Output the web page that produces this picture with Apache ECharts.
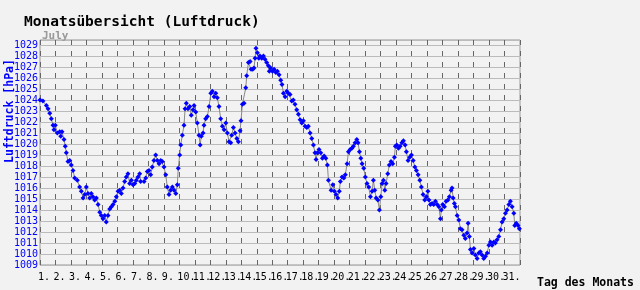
<!DOCTYPE html>
<html>
<head>
<meta charset="utf-8">
<script src="https://cdn.jsdelivr.net/npm/echarts@6/dist/echarts.min.js"></script>
<style>
html,body{margin:0;padding:0;background:#f2f2f2;}
#chart{width:640px;height:290px;}
</style>
</head>
<body>
<div id="chart"></div>
<script>
// Day of month offset (0 = start of day 1) for each reading
var days = [
 0.00,0.19,0.41,0.52,0.63,0.73,0.84,0.90,0.99,1.12,1.27,1.34,1.42,1.55,1.63,1.70,1.81,1.92,2.02,2.13,2.24,2.41,2.56,2.67,2.78,2.89,2.99,3.10,3.21,3.31,3.42,3.53,3.64,3.75,3.86,3.96,4.07,4.18,4.28,4.39,4.50,4.61,4.72,4.83,4.93,5.04,5.15,5.25,5.36,5.47,5.57,5.68,5.79,5.90,6.01,6.12,6.22,6.33,6.44,
 6.50,6.72,6.83,6.93,7.04,7.15,7.25,7.36,7.47,7.58,7.69,7.80,7.90,8.01,8.12,8.22,8.33,8.44,8.55,8.66,8.77,8.87,8.93,9.02,9.09,9.19,9.30,9.37,9.45,9.56,9.67,9.77,9.88,9.95,10.06,10.16,10.27,10.34,10.42,10.53,10.59,10.70,10.81,10.92,11.03,11.13,11.24,11.35,11.45,11.56,11.67,11.78,11.89,12.00,12.10,12.21,12.32,
 12.38,12.49,12.60,12.71,12.81,12.92,12.98,13.07,13.18,13.29,13.35,13.46,13.57,13.63,13.74,13.82,13.89,13.95,14.04,14.13,14.21,14.32,14.43,14.53,14.64,14.75,14.81,14.90,15.01,15.12,15.23,15.33,15.44,15.55,15.63,15.72,15.83,15.94,16.04,16.15,16.26,16.36,16.47,16.58,16.69,16.80,16.91,17.01,17.12,17.23,17.33,17.44,17.55,17.66,17.76,17.83,17.91,18.02,18.13,18.24,18.35,18.46,18.56,
 18.63,18.80,18.91,19.01,19.12,19.23,19.33,19.40,19.51,19.62,19.72,19.83,19.92,20.03,20.14,20.24,20.35,20.46,20.54,20.63,20.72,20.80,20.91,21.01,21.12,21.23,21.34,21.45,21.53,21.62,21.71,21.82,21.92,22.01,22.09,22.18,22.27,22.35,22.46,22.56,22.67,22.78,22.89,22.95,23.04,23.15,23.26,23.37,23.47,23.58,23.66,23.77,23.88,23.99,24.10,24.21,24.31,24.42,24.53,24.63,24.74,24.85,24.95,25.05,
 25.12,25.21,25.32,25.43,25.54,25.65,25.76,25.86,25.92,26.01,26.12,26.23,26.34,26.44,26.55,26.61,26.68,26.76,26.83,26.94,27.05,27.15,27.26,27.37,27.47,27.58,27.65,27.73,27.80,27.91,28.02,28.12,28.23,28.34,28.44,28.55,28.66,28.77,28.88,28.99,29.09,29.20,29.31,29.41,29.52,29.63,29.74,29.84,29.95,30.06,30.17,30.28,30.38,30.49,30.60,30.66,30.76,30.87,30.96
];
// Air pressure readings in hPa
var pressure = [
 1024.0,1023.9,1023.5,1023.2,1022.8,1022.3,1021.7,1021.3,1021.7,1021.0,1021.1,1020.7,1021.1,1020.4,1019.8,1019.2,1018.4,1018.5,1018.1,1017.6,1016.9,1016.7,1016.1,1015.7,1015.1,1015.4,1016.1,1015.5,1015.1,1015.5,1015.2,1014.9,1015.1,1014.5,1013.8,1013.5,1013.2,1013.5,1012.9,1013.5,1014.1,1014.3,1014.5,1014.8,1015.2,1015.7,1015.8,1015.5,1016.0,1016.6,1017.0,1017.3,1016.4,1016.7,1016.3,1016.4,1016.7,1017.0,1017.3,
 1016.6,1016.6,1016.9,1017.5,1017.6,1017.2,1017.9,1018.5,1019.0,1018.5,1018.2,1018.5,1018.4,1017.9,1017.2,1016.1,1015.4,1015.8,1016.1,1015.8,1015.5,1016.3,1017.8,1019.0,1019.9,1020.8,1021.7,1023.2,1023.7,1023.2,1023.4,1022.6,1023.1,1023.5,1022.9,1021.9,1020.8,1019.9,1020.7,1021.0,1021.7,1022.3,1022.5,1023.4,1024.6,1024.8,1024.3,1024.6,1024.2,1023.4,1022.3,1021.6,1021.3,1021.9,1021.0,1020.2,1020.1,
 1020.8,1021.5,1021.0,1020.5,1020.2,1021.2,1022.1,1023.6,1023.7,1025.1,1026.2,1027.4,1027.5,1026.8,1026.8,1026.9,1027.8,1028.7,1028.3,1027.8,1028.0,1027.8,1028.0,1027.7,1027.4,1027.1,1026.6,1026.9,1026.6,1026.8,1026.5,1026.6,1026.3,1025.8,1025.4,1024.6,1024.3,1024.8,1024.6,1024.5,1023.9,1024.0,1023.6,1023.1,1022.7,1022.2,1021.9,1022.1,1021.6,1021.5,1021.6,1021.0,1020.5,1019.9,1019.2,1018.6,1019.2,1019.5,1019.2,1018.7,1018.9,1018.7,1018.1,
 1016.7,1015.8,1016.3,1015.7,1015.4,1015.1,1015.7,1016.6,1017.0,1016.9,1017.2,1018.2,1019.3,1019.5,1019.6,1019.8,1020.1,1020.4,1020.1,1019.3,1018.7,1018.2,1017.8,1017.0,1016.4,1016.1,1015.2,1015.7,1016.7,1015.8,1015.1,1014.9,1014.0,1015.2,1016.4,1016.7,1015.8,1016.4,1017.3,1018.1,1018.4,1018.2,1018.8,1019.8,1019.9,1019.6,1019.8,1020.1,1020.3,1019.9,1019.3,1018.5,1018.8,1019.0,1018.5,1017.9,1017.6,1017.2,1016.7,1016.1,1015.4,1014.9,1015.2,1015.7,
 1014.9,1014.5,1014.6,1014.5,1014.8,1014.5,1014.3,1013.2,1014.0,1014.5,1014.3,1014.8,1014.9,1015.2,1015.8,1016.0,1015.1,1014.6,1014.3,1013.5,1013.1,1012.3,1012.2,1011.7,1011.4,1011.9,1012.8,1011.6,1010.4,1010.1,1010.5,1009.9,1009.6,1010.1,1010.2,1009.9,1009.6,1009.8,1010.1,1010.8,1011.1,1010.8,1011.1,1011.0,1011.3,1011.6,1012.2,1012.9,1013.2,1013.7,1014.0,1014.5,1014.8,1014.3,1013.7,1012.6,1012.8,1012.6,1012.3
];
var dayLabels = [];
for (var d = 1; d <= 31; d++) dayLabels.push(d + '.');
var yMin = 1009, yMaxTick = 1029;

var titleText = 'Monatsübersicht (Luftdruck)';
var monthText = 'July';
var yName = 'Luftdruck [hPa]';
var xName = 'Tag des Monats';

var points = days.map(function (t, i) { return [t, pressure[i]]; });
var mono = '"DejaVu Sans Mono", monospace';

var chart = echarts.init(document.getElementById('chart'), null, {renderer: 'canvas'});
chart.setOption({
  backgroundColor: '#f2f2f2',
  animation: false,
  title: [
    {text: titleText, left: 19, top: 10, textStyle: {fontFamily: mono, fontSize: 14.5, fontWeight: 'bold', color: '#000'}},
    {text: monthText, left: 37, top: 26, textStyle: {fontFamily: mono, fontSize: 11, fontWeight: 'bold', color: '#999'}}
  ],
  grid: {left: 40, right: 120, top: 40, bottom: 25, show: true, borderColor: '#999', borderWidth: 1, backgroundColor: 'transparent'},
  xAxis: {
    type: 'value', min: 0, max: 31, interval: 1,
    axisLine: {show: false}, axisTick: {show: false},
    splitLine: {show: true, lineStyle: {color: '#666', type: [5, 6], width: 1}},
    axisLabel: {
      show: true, color: '#000', fontFamily: mono, fontSize: 10, margin: 7, align: 'left',
      padding: [0, 0, 0, -2],
      formatter: function (v) { return v < 31 ? dayLabels[v] : ''; }
    }
  },
  yAxis: {
    type: 'value', min: yMin, max: yMaxTick + 0.45, interval: 1,
    axisLine: {show: false}, axisTick: {show: false},
    splitLine: {show: true, lineStyle: {color: '#bbb', width: 1}},
    axisLabel: {
      color: '#0000ff', fontFamily: mono, fontSize: 10, margin: 2,
      formatter: function (v) { return Math.abs(v - Math.round(v)) < 1e-6 ? String(Math.round(v)) : ''; }
    }
  },
  graphic: [
    {type: 'text', x: 10.5, y: 111, rotation: Math.PI / 2,
     style: {text: yName, align: 'center', verticalAlign: 'middle', font: 'bold 11.5px ' + mono, fill: '#0000ff'}},
    {type: 'text', x: 537, y: 283,
     style: {text: xName, align: 'left', verticalAlign: 'middle', font: 'bold 11.5px ' + mono, fill: '#000'}}
  ],
  series: [{
    type: 'line',
    data: points,
    showSymbol: true,
    symbol: 'diamond',
    symbolSize: 5,
    itemStyle: {color: '#0000ff'},
    lineStyle: {color: '#888', width: 1}
  }]
});
</script>
</body>
</html>
